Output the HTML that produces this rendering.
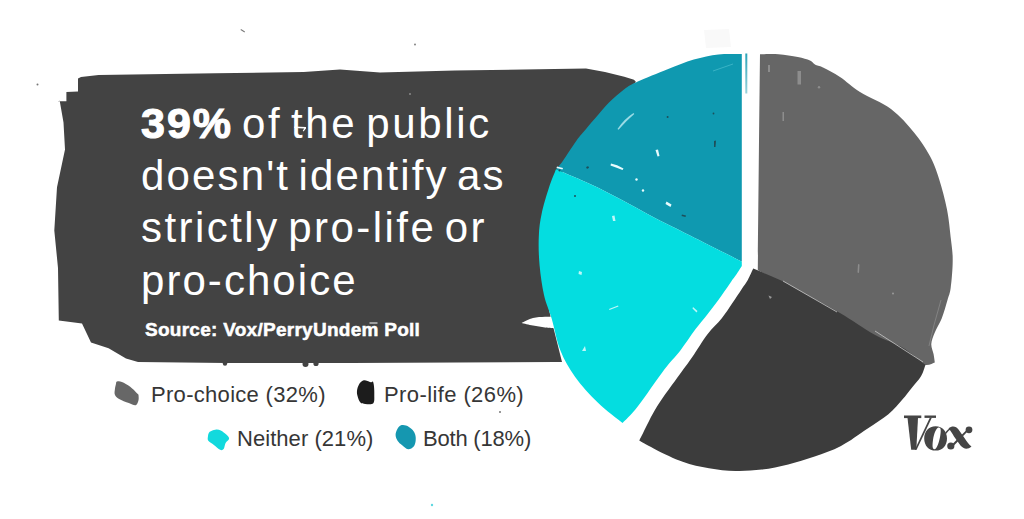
<!DOCTYPE html>
<html><head><meta charset="utf-8">
<style>
html,body{margin:0;padding:0;background:#fff;}
body{width:1024px;height:519px;overflow:hidden;position:relative;font-family:"Liberation Sans",sans-serif;}
svg{position:absolute;left:0;top:0;}
.t{position:absolute;color:#fff;font-size:42px;white-space:pre;line-height:52px;}
.src{position:absolute;color:#fff;font-size:19px;font-weight:bold;white-space:pre;-webkit-text-stroke:0.5px #fff;}
.lg{position:absolute;color:#363636;font-size:22px;white-space:pre;}
</style></head>
<body>
<svg width="1024" height="519" viewBox="0 0 1024 519">
  <path fill="#434343" d="M57.6,101.3 L66.4,101.3 L66.4,92 L78,91.6 L78,78.4 L81,77 L98.6,75 L215.8,73.2 L303.7,72 L340,69.4 L380,72.5 L455,70.6 L586,68.4 L605,72 L624.3,76.8 L634,79.7 L636,82 L622,94 L595,122 L568,160 L550,200 L544,250 L549,310 L562,362 L555,362 L350,363 L225.8,363 L138,362 L126,358.6 L108.6,348.3 L91,342.5 L82,323.4 L58.8,320.5 L58,268 L54.3,230.5 L57,187.3 L65,149.5 L63.5,122.4 L59.7,100.8 Z"/>
  <path fill="#fff" d="M521.6,322.9 C523.5,322.1 529.1,319.0 533.0,318.0 C536.9,317.0 541.2,317.1 545.0,316.8 C548.8,316.6 554.2,316.6 556.0,316.5 C556.0,318.5 556.0,326.5 556.0,328.5 C554.2,328.3 548.8,328.0 545.0,327.5 C541.2,327.0 536.9,326.3 533.0,325.5 C529.1,324.7 523.5,323.3 521.6,322.9 Z"/>
  <path fill="#0f99b0" d="M741.8,261.6 C741.8,227.0 741.8,88.6 741.8,54.0 C737.9,54.1 726.4,53.5 718.4,54.4 C710.4,55.3 702.3,57.0 693.8,59.5 C685.3,62.0 676.9,65.6 667.6,69.3 C658.3,73.0 645.0,78.3 637.8,81.6 C630.6,84.9 629.1,85.8 624.3,89.3 C619.5,92.8 613.8,97.8 609.0,102.6 C604.2,107.4 599.6,113.2 595.4,118.0 C591.2,122.8 587.1,127.6 583.9,131.5 C580.6,135.4 579.4,136.5 575.9,141.4 C572.4,146.3 566.1,156.3 562.8,161.0 C559.5,165.7 557.1,167.9 556.0,169.3 C561.7,171.8 579.3,179.1 590.0,184.0 C600.7,188.9 609.2,193.3 620.0,199.0 C630.8,204.7 643.3,211.9 655.0,218.0 C666.7,224.1 675.5,228.2 690.0,235.5 C704.5,242.8 733.2,257.2 741.8,261.6 Z"/>
  <path fill="#04dde0" d="M556.0,169.3 C554.8,172.4 551.4,180.2 549.0,187.6 C546.6,195.0 543.4,205.4 541.7,213.6 C540.0,221.8 539.1,228.0 538.8,236.7 C538.4,245.4 538.7,255.9 539.6,265.6 C540.5,275.3 542.0,286.1 544.0,295.0 C546.0,303.9 549.0,309.6 551.8,318.9 C554.5,328.2 556.6,341.1 560.5,350.7 C564.4,360.3 568.8,368.0 575.0,376.7 C581.2,385.4 590.1,395.0 598.0,402.7 C605.9,410.4 618.5,419.6 622.6,423.0 C625.1,420.2 630.7,415.5 637.7,406.5 C644.7,397.5 657.7,378.3 664.7,369.0 C671.8,359.7 674.9,357.5 680.0,350.9 C685.1,344.3 690.8,335.5 695.4,329.3 C700.0,323.1 703.3,319.5 707.7,313.9 C712.1,308.2 717.6,300.9 721.6,295.4 C725.6,289.9 729.2,284.4 731.6,281.0 C734.0,277.6 734.3,277.5 736.0,275.0 C737.7,272.5 740.8,267.5 741.8,266.0 C741.8,265.3 741.8,262.3 741.8,261.6 C733.2,257.2 704.5,242.8 690.0,235.5 C675.5,228.2 666.7,224.1 655.0,218.0 C643.3,211.9 630.8,204.7 620.0,199.0 C609.2,193.3 600.7,188.9 590.0,184.0 C579.3,179.1 561.7,171.8 556.0,169.3 Z"/>
  <path fill="#666666" d="M760.0,54.3 C763.1,54.3 772.2,53.8 778.5,54.3 C784.8,54.8 792.5,56.0 797.8,57.0 C803.0,58.0 807.1,59.2 810.0,60.5 C812.9,61.8 812.8,63.3 815.0,64.5 C817.2,65.7 818.8,65.4 823.0,67.5 C827.2,69.6 833.8,72.9 840.0,77.0 C846.2,81.1 851.5,86.7 860.0,92.0 C868.5,97.3 882.0,102.2 891.0,109.0 C900.0,115.8 907.6,124.7 914.0,132.5 C920.4,140.3 925.4,147.9 929.6,155.6 C933.8,163.3 936.1,169.7 939.0,178.7 C941.9,187.7 945.0,199.4 947.0,209.6 C949.0,219.8 950.0,231.5 951.0,240.0 C952.0,248.5 952.8,252.8 952.7,260.8 C952.7,268.8 951.6,281.3 950.7,287.8 C949.8,294.3 949.0,294.9 947.5,300.0 C946.0,305.1 943.8,313.1 941.7,318.5 C939.6,323.9 936.5,328.1 934.8,332.4 C933.1,336.6 931.5,340.4 931.3,344.0 C931.1,347.6 933.0,351.2 933.6,354.3 C934.2,357.4 934.6,361.0 934.8,362.4 C932.9,362.7 928.6,366.4 923.2,364.4 C917.8,362.4 910.5,354.8 902.4,350.4 C894.3,345.9 885.1,343.4 874.7,337.7 C864.3,332.0 852.5,323.3 840.0,316.0 C827.5,308.7 810.0,299.5 800.0,294.0 C790.0,288.5 787.0,287.0 780.0,283.0 C773.0,279.0 761.5,272.2 757.8,270.0 C758.2,234.1 759.6,90.2 760.0,54.3 Z"/>
  <path fill="#3c3c3c" d="M753.2,268.5 C757.7,270.4 772.2,276.2 780.0,280.0 C787.8,283.8 790.0,285.5 800.0,291.0 C810.0,296.5 827.5,305.7 840.0,313.0 C852.5,320.3 864.3,329.0 874.7,334.7 C885.1,340.4 893.9,342.4 902.4,347.4 C910.9,352.4 921.6,361.8 925.5,364.7 C924.8,366.6 923.3,372.4 921.0,376.3 C918.7,380.2 914.8,384.0 911.7,387.9 C908.6,391.8 906.3,395.0 902.4,399.4 C898.5,403.8 894.2,409.4 888.4,414.3 C882.5,419.2 875.2,423.5 867.3,428.8 C859.4,434.1 849.8,441.4 841.0,446.0 C832.2,450.6 823.4,453.4 814.6,456.5 C805.8,459.6 797.0,462.2 788.2,464.4 C779.4,466.6 770.6,468.5 761.8,469.6 C753.0,470.7 744.3,471.2 735.5,471.0 C726.7,470.8 717.8,469.9 709.0,468.3 C700.2,466.8 691.5,464.8 682.7,461.7 C673.9,458.6 663.6,453.4 656.4,449.9 C649.1,446.4 642.1,442.2 639.2,440.6 C639.9,439.3 640.2,438.4 643.2,432.7 C646.2,427.0 650.9,416.3 657.0,406.5 C663.1,396.7 674.1,382.2 680.0,374.0 C685.9,365.8 687.7,363.7 692.3,357.0 C696.9,350.3 702.8,340.3 707.7,333.9 C712.6,327.5 717.5,323.6 721.6,318.5 C725.7,313.4 729.1,308.0 732.4,303.1 C735.7,298.2 739.0,293.1 741.6,289.2 C744.2,285.3 745.9,283.4 747.8,280.0 C749.7,276.6 752.3,270.4 753.2,268.5 Z"/>
  <defs><linearGradient id="tl" x1="0" y1="0" x2="0" y2="1"><stop offset="0" stop-color="#2aa3b8"/><stop offset="1" stop-color="#9ad3dc"/></linearGradient></defs><rect x="745.3" y="53.5" width="2" height="40" fill="url(#tl)"/>
  <path d="M704,30 L729,29 L731,47 L706,48 Z" fill="#f9f9f9"/>
  <!-- boundary light lines -->
  <g stroke="#c8c8c8" stroke-width="1" fill="none" opacity="0.8">
    <path d="M783,281 L837,312"/>
    <path d="M875,331 L923,362"/>
  </g>
  <g stroke="#8a8a8a" stroke-width="1" fill="none" opacity="0.8">
    <path d="M941,300 L934,325 L929,346"/>
  </g>
  <!-- teal texture -->
  <g fill="#e8fbfd">
    <path d="M617.5,129 Q624,119 633.5,113 L634.3,114 Q626,121 618.5,129.8 Z" fill="#9adbe5"/>
    <path d="M611,163.5 Q617,164.5 623.5,168.5 L622.5,170 Q616,167.5 610.5,165.5 Z"/>
    <path d="M655.5,150 L658,149.5 L659.5,156 L657.5,156.5 Z"/>
    <circle cx="636.5" cy="179.5" r="1.2"/>
    <circle cx="643" cy="190.5" r="1.2"/>
    <path d="M666.5,201.5 L671.5,204.5 L670.5,207 L665.5,204 Z"/>
    <path d="M557,166.5 L563,168 L562.5,169.5 L556.5,168 Z"/>
  </g>
  <g stroke="#5cc7d6" stroke-width="0.8" fill="none" opacity="0.7">
    <path d="M713,71 L733,64"/>
  </g>
  <g fill="#1e4f5a">
    <circle cx="667.6" cy="117" r="1"/>
    <circle cx="713.5" cy="113.5" r="0.9"/>
    <path d="M714,141 L716,140.5 L715.5,147 L714,147 Z"/>
    <circle cx="587.3" cy="167.6" r="1.1"/>
    <circle cx="588" cy="167.3" r="0.9"/>
    <circle cx="575" cy="196" r="1"/>
    <path d="M682,214.5 L686,215.5 L685.5,217 L681.5,216 Z"/>
    <circle cx="559.5" cy="170.5" r="0.9"/>
  </g>
  <!-- cyan texture -->
  <g fill="#bff6f8">
    <path d="M612,216 L614.5,215.5 L615.5,221 L613,221 Z"/>
    <path d="M579,271 L582,272 L581.5,275 L578.5,274 Z"/>
    <path d="M609,309 L618,305.5 L618.5,306.5 L609.5,310 Z"/>
    <path d="M582,351 L585,346 L586,351 Z"/>
    <path d="M693,307 L697.5,311 L696.5,312.5 L692.5,308.5 Z"/>
  </g>
  <!-- gray texture -->
  <g fill="#8d8d8d">
    <path d="M768,65 L770,65 L770,72 L768,72 Z"/>
    <path d="M797.5,71 L801,71 L801,84.5 L797.5,84.5 Z"/>
    <circle cx="819" cy="87.3" r="1.2"/>
    <path d="M782.5,112 L784,112 L784,121 L782.5,121 Z"/>
    <path d="M858,264 L859.5,264.5 L859,273 L857.5,272.5 Z"/>
  </g>
  <g fill="#9a9a9a"><path d="M768.5,295.5 L772,297 L770,299 Z"/><circle cx="893" cy="293.6" r="1"/></g>
  <!-- box drips & marks -->
  <g fill="#434343">
    <circle cx="305.5" cy="364" r="3"/>
    <circle cx="316" cy="363.5" r="2.6"/>
    <circle cx="225" cy="363.5" r="2.2"/>
  </g>
  <path d="M294.3,126.6 L306,127 L306,128.4 L303.5,131.5 L302.8,130.8 L304.2,128.4 L294.3,128 Z" fill="#fff"/>
  <g fill="#777">
    <path d="M241,29 L245,31.5 L244.5,32.5 L240.5,30 Z"/>
    <circle cx="415" cy="44.5" r="0.9"/>
    <circle cx="37.5" cy="84.5" r="1"/>
    <circle cx="500" cy="412" r="1"/>
  </g>
  <circle cx="432" cy="505" r="1.2" fill="#5fd8e0"/>
  <circle cx="410" cy="94" r="1" fill="#888"/>
  <rect x="369.5" y="322.2" width="8" height="1.6" fill="#b5b5b5"/>
  <!-- legend blobs -->
  <path fill="#676767" d="M117.0,381.6 C118.0,381.3 119.7,381.1 121.9,382.0 C124.1,382.9 127.4,384.7 130.2,386.8 C133.0,388.9 137.1,393.5 138.5,394.8 C138.5,395.7 139.0,398.6 138.5,400.3 C138.0,402.0 137.3,404.7 135.7,405.2 C134.1,405.7 131.6,404.1 128.8,403.1 C126.0,402.1 121.4,400.4 119.1,399.0 C116.8,397.6 115.6,396.4 114.9,394.8 C114.2,393.2 114.7,391.2 114.9,389.3 C115.1,387.4 115.7,385.0 116.0,383.7 C116.3,382.4 116.0,381.9 117.0,381.6 Z"/>
  <path fill="#1c1c1c" d="M363.2,380.6 C364.6,380.0 366.1,380.7 367.4,381.0 C368.7,381.3 369.9,382.2 370.8,382.3 C371.7,382.4 372.4,380.9 372.9,381.6 C373.4,382.3 373.8,384.3 374.0,386.5 C374.2,388.7 374.4,392.0 374.3,394.8 C374.2,397.6 374.8,401.7 373.3,403.2 C371.8,404.7 367.5,404.0 365.3,403.9 C363.1,403.8 361.7,403.8 360.4,402.5 C359.1,401.2 358.2,398.2 357.6,396.2 C357.0,394.2 356.8,392.7 357.0,390.7 C357.2,388.7 358.0,386.1 359.0,384.4 C360.0,382.7 361.8,381.2 363.2,380.6 Z"/>
  <path fill="#12d9dd" d="M209.7,431.8 C210.9,430.8 213.5,429.9 215.3,429.7 C217.2,429.5 219.0,429.6 220.8,430.4 C222.6,431.2 224.9,433.2 226.3,434.6 C227.7,436.0 229.2,437.3 229.1,438.7 C229.0,440.1 226.5,441.2 225.6,442.9 C224.7,444.6 224.5,448.0 223.6,449.1 C222.7,450.2 221.7,450.5 220.1,449.8 C218.5,449.1 215.9,446.5 213.9,445.0 C211.9,443.5 209.3,442.3 208.3,440.8 C207.3,439.3 207.8,437.5 208.0,436.0 C208.2,434.5 208.5,432.9 209.7,431.8 Z"/>
  <path fill="#1597b0" d="M400.5,425.6 C402.0,424.9 404.1,425.0 406.0,425.6 C407.9,426.2 410.1,427.7 411.6,429.1 C413.1,430.5 414.3,432.1 415.0,434.0 C415.7,435.9 415.9,438.1 415.7,440.2 C415.5,442.3 415.0,444.9 413.7,446.4 C412.4,447.9 410.1,449.4 408.1,449.2 C406.1,449.0 403.6,446.4 401.9,445.0 C400.2,443.6 398.8,442.5 397.7,440.9 C396.6,439.3 395.7,437.1 395.6,435.3 C395.5,433.5 396.2,431.4 397.0,429.8 C397.8,428.2 399.0,426.3 400.5,425.6 Z"/>
  <!-- Vox logo -->
  <g fill="#454545">
    <rect x="904" y="415.5" width="17.3" height="2.6"/>
    <rect x="924.5" y="415.5" width="11.5" height="2.4"/>
    <path d="M907.5,418 L918,418 L916.3,449.8 L911.2,449.8 Z"/>
    <path d="M914.8,449.8 L929.8,417.8 L931.8,417.8 L916.6,449.8 Z"/>
    <path fill-rule="evenodd" d="M935.6,426.2 C942.5,426.2 947,431.5 947,438.4 C947,445.3 942.5,450.6 935.6,450.6 C928.7,450.6 924.2,445.3 924.2,438.4 C924.2,431.5 928.7,426.2 935.6,426.2 Z M938.8,427.4 C941,427.4 941.2,430.5 940.2,436 C939.2,442 937,449.2 934.4,449.2 C932.4,449.2 932.2,446 933,440 C934,433 936.4,427.4 938.8,427.4 Z"/>
    <path d="M948.5,428.5 C952,425.5 956,426 958.5,429.5 L964.5,438 C967,442 969,444.5 971.5,446.5 C967.5,450 963.5,449 960.5,445.5 L954,436.5 C952,433 950.5,430.5 948.5,428.5 Z"/>
    <path d="M952,444.5 L966.5,430 L967.8,431.3 L953.5,446 Z"/>
    <circle cx="969" cy="429.8" r="3.4"/>
    <circle cx="950.8" cy="446" r="3.6"/>
    <path d="M945,433 C947,430 949,428.5 951,428 L951.5,429 C949.5,429.8 948,431.2 946,434 Z"/>
  </g>
</svg>
<div class="t" style="left:141px;top:97px;letter-spacing:2.65px;word-spacing:-5.5px"><b style="letter-spacing:2px;font-size:43px;-webkit-text-stroke:1.1px #fff">39%</b> of the public</div>
<div class="t" style="left:141px;top:150px;letter-spacing:2.15px;word-spacing:-5.5px">doesn't identify as</div>
<div class="t" style="left:141px;top:202px;letter-spacing:2.45px;word-spacing:-5.5px">strictly pro-life or</div>
<div class="t" style="left:141px;top:255px;letter-spacing:2.05px">pro-choice</div>
<div class="src" style="left:145px;top:319px;letter-spacing:0.27px">Source: Vox/PerryUndem Poll</div>
<div class="lg" style="left:151px;top:382px;letter-spacing:0.3px">Pro-choice (32%)</div>
<div class="lg" style="left:384px;top:382px;letter-spacing:0.4px">Pro-life (26%)</div>
<div class="lg" style="left:237px;top:426px;letter-spacing:0.05px">Neither (21%)</div>
<div class="lg" style="left:423px;top:426px;letter-spacing:-0.2px">Both (18%)</div>
</body></html>
